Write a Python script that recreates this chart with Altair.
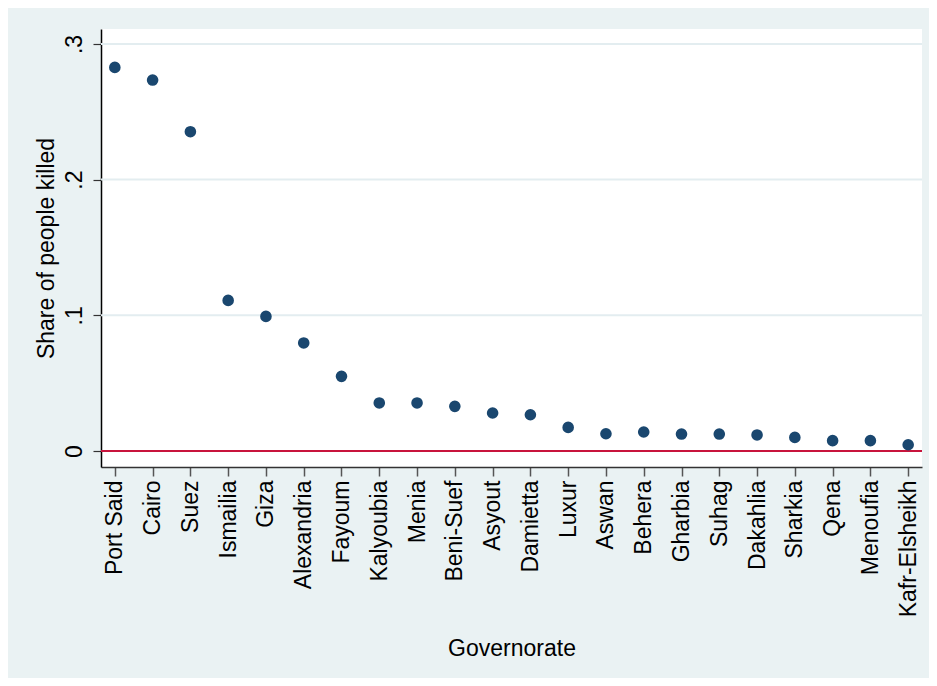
import altair as alt
import pandas as pd

governorates = ["Port Said", "Cairo", "Suez", "Ismailia", "Giza", "Alexandria", "Fayoum",
                "Kalyoubia", "Menia", "Beni-Suef", "Asyout", "Damietta", "Luxur", "Aswan",
                "Behera", "Gharbia", "Suhag", "Dakahlia", "Sharkia", "Qena", "Menoufia",
                "Kafr-Elsheikh"]
share_killed = [0.2827, 0.2734, 0.2353, 0.1110, 0.0992, 0.0796, 0.0550,
                0.0354, 0.0354, 0.0329, 0.0280, 0.0267, 0.0174, 0.0127,
                0.0140, 0.0125, 0.0125, 0.0118, 0.0100, 0.0076, 0.0076,
                0.0046]
y_ticks = [0, 0.1, 0.2, 0.3]
ref_value = [0]

df = pd.DataFrame({"gov": governorates, "share": share_killed})
ref = pd.DataFrame({"y": ref_value})

FONT = "Liberation Sans"
BG = "#EAF2F3"
FS = 23

x_enc = alt.X("gov:N", sort=governorates, title="Governorate",
              scale=alt.Scale(type="point", padding=0.366),
              axis=alt.Axis(labelAngle=-90, labelFontSize=FS, titleFontSize=FS,
                            labelFont=FONT, titleFont=FONT, titleFontWeight="normal",
                            labelColor="#000000", titleColor="#000000",
                            domainColor="#333333", domainWidth=1.5,
                            tickColor="#555555", tickSize=9, tickWidth=1.5,
                            labelPadding=4, titlePadding=21, grid=False))

y_scale = alt.Scale(domain=[-0.0118, 0.3110], nice=False, zero=False)

points = alt.Chart(df).mark_circle(size=135, opacity=1, color="#1a476f").encode(
    x=x_enc,
    y=alt.Y("share:Q", scale=y_scale, title="Share of people killed",
            axis=alt.Axis(values=y_ticks,
                          labelExpr="datum.value == 0 ? '0' : replace(format(datum.value, '.1f'), '0.', '.')",
                          labelAngle=-90, labelFontSize=FS, titleFontSize=FS,
                          labelFont=FONT, titleFont=FONT, titleFontWeight="normal",
                          labelColor="#000000", titleColor="#000000",
                          domainColor="#000000", domainWidth=1.5,
                          tickColor="#333333", tickSize=8, tickWidth=1.2,
                          labelPadding=7, titlePadding=5,
                          grid=False))
)

grid_df = pd.DataFrame({"y": [t for t in y_ticks if t > 0]})
grid = alt.Chart(grid_df).mark_rule(color="#E3EDF0", strokeWidth=2).encode(
    y=alt.Y("y:Q", scale=y_scale)
)

zero_line = alt.Chart(ref).mark_rule(color="#C8143C", strokeWidth=2).encode(
    y=alt.Y("y:Q", scale=y_scale)
)

chart = alt.layer(grid, zero_line, points).properties(
    width=821, height=438,
    background=BG,
    padding={"left": 93, "top": 21, "right": 7, "bottom": 211},
    autosize=alt.AutoSizeParams(type="none"),
).configure_view(stroke=None, fill="#FFFFFF")

chart.save("out.html", embed_options={"renderer": "svg", "actions": False})
